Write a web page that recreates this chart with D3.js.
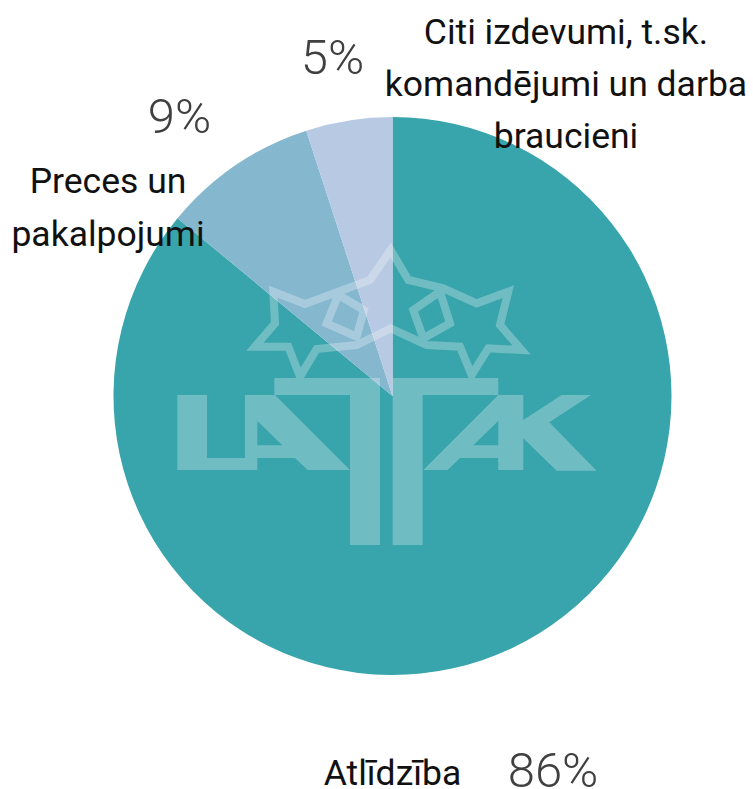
<!DOCTYPE html>
<html>
<head>
<meta charset="utf-8">
<script src="https://cdn.jsdelivr.net/npm/d3@7"></script>
<style>
html, body { margin: 0; background: #fff; overflow: hidden; }
svg { display: block; }
text { font-family: Roboto, sans-serif; }
</style>
</head>
<body>
<svg id="chart"></svg>
<script>
const categories = ["Atlīdzība", "Preces un pakalpojumi", "Citi izdevumi, t.sk. komandējumi un darba braucieni"];
const shares = [86, 9, 5];
const sliceColors = ["#38a4ab", "#85b7cf", "#b8c9e3"];
// label lines per category, wrapped like the original
const labelLines = [["Atlīdzība"], ["Preces un", "pakalpojumi"], ["Citi izdevumi, t.sk.", "komandējumi un darba", "braucieni"]];

const width = 753, height = 789;
const cx = 392.5, cy = 396, radius = 279;

const svg = d3.select("#chart").attr("width", width).attr("height", height);

// pie
const pie = d3.pie().sort(null).value(d => d);
const arc = d3.arc().innerRadius(0).outerRadius(radius);
const color = d3.scaleOrdinal().domain(categories).range(sliceColors);

svg.append("g")
    .attr("transform", "translate(" + cx + "," + cy + ")")
    .selectAll("path")
    .data(pie(shares))
    .join("path")
    .attr("d", arc)
    .attr("fill", (d, i) => color(categories[i]));

// watermark logo, traced in the coordinates of a 3x crop
const logo = svg.append("g")
    .attr("transform", "translate(160,230) scale(0.3333)")
    .attr("opacity", 0.28);

const logoFills = [
    "M52,495H141V684H255V495H345L570,720H443L405,684H292V720H52Z M292,573V646H367Z",
    "M343,444H660V945H570V495H343Z",
    "M698,444H1015V495H788V945H698Z",
    "M790,720L1015,495H1090V570L1205,495H1293L1168,577L1310,722H1190L1090,625V720H1015V684H900L863,720Z M1015,573L940,646H1015Z"
];
logo.selectAll("path.fill")
    .data(logoFills)
    .join("path")
    .attr("class", "fill")
    .attr("d", d => d)
    .attr("fill", "#fff")
    .attr("fill-rule", "evenodd");

const logoLines = [
    "M420,440L385,350H285L345,280L340,185L435,222L630,150L692,60L745,150L850,175L950,220L1045,185L1020,285L1085,360L985,355L935,435L900,350L800,345L692,295L590,345L470,357Z",
    "M535,195L612,240L590,320L500,280Z",
    "M840,185L760,240L790,325L870,280Z"
];
logo.selectAll("path.line")
    .data(logoLines)
    .join("path")
    .attr("class", "line")
    .attr("d", d => d)
    .attr("fill", "none")
    .attr("stroke", "#fff")
    .attr("stroke-width", 24);

// category labels: [anchor x, first baseline, line height]
const labelPos = [[392.5, 785, 0], [108, 193, 53], [566, 44, 52]];
const labels = svg.selectAll("text.label")
    .data(labelLines)
    .join("text")
    .attr("class", "label")
    .attr("text-anchor", "middle")
    .attr("font-size", 35.5)
    .attr("fill", "#111");
labels.selectAll("tspan")
    .data((d, i) => d.map(t => ({t: t, p: labelPos[i]})))
    .join("tspan")
    .attr("x", d => d.p[0])
    .attr("y", (d, i) => d.p[1] + i * d.p[2])
    .text(d => d.t);

// percentages
const pctPos = [[553, 787], [179.5, 133], [332.5, 74]];
svg.selectAll("text.pct")
    .data(shares)
    .join("text")
    .attr("class", "pct")
    .attr("x", (d, i) => pctPos[i][0])
    .attr("y", (d, i) => pctPos[i][1])
    .attr("text-anchor", "middle")
    .attr("font-size", 49)
    .attr("font-weight", 300)
    .attr("fill", "#404040")
    .text(d => d + "%");
</script>
</body>
</html>
